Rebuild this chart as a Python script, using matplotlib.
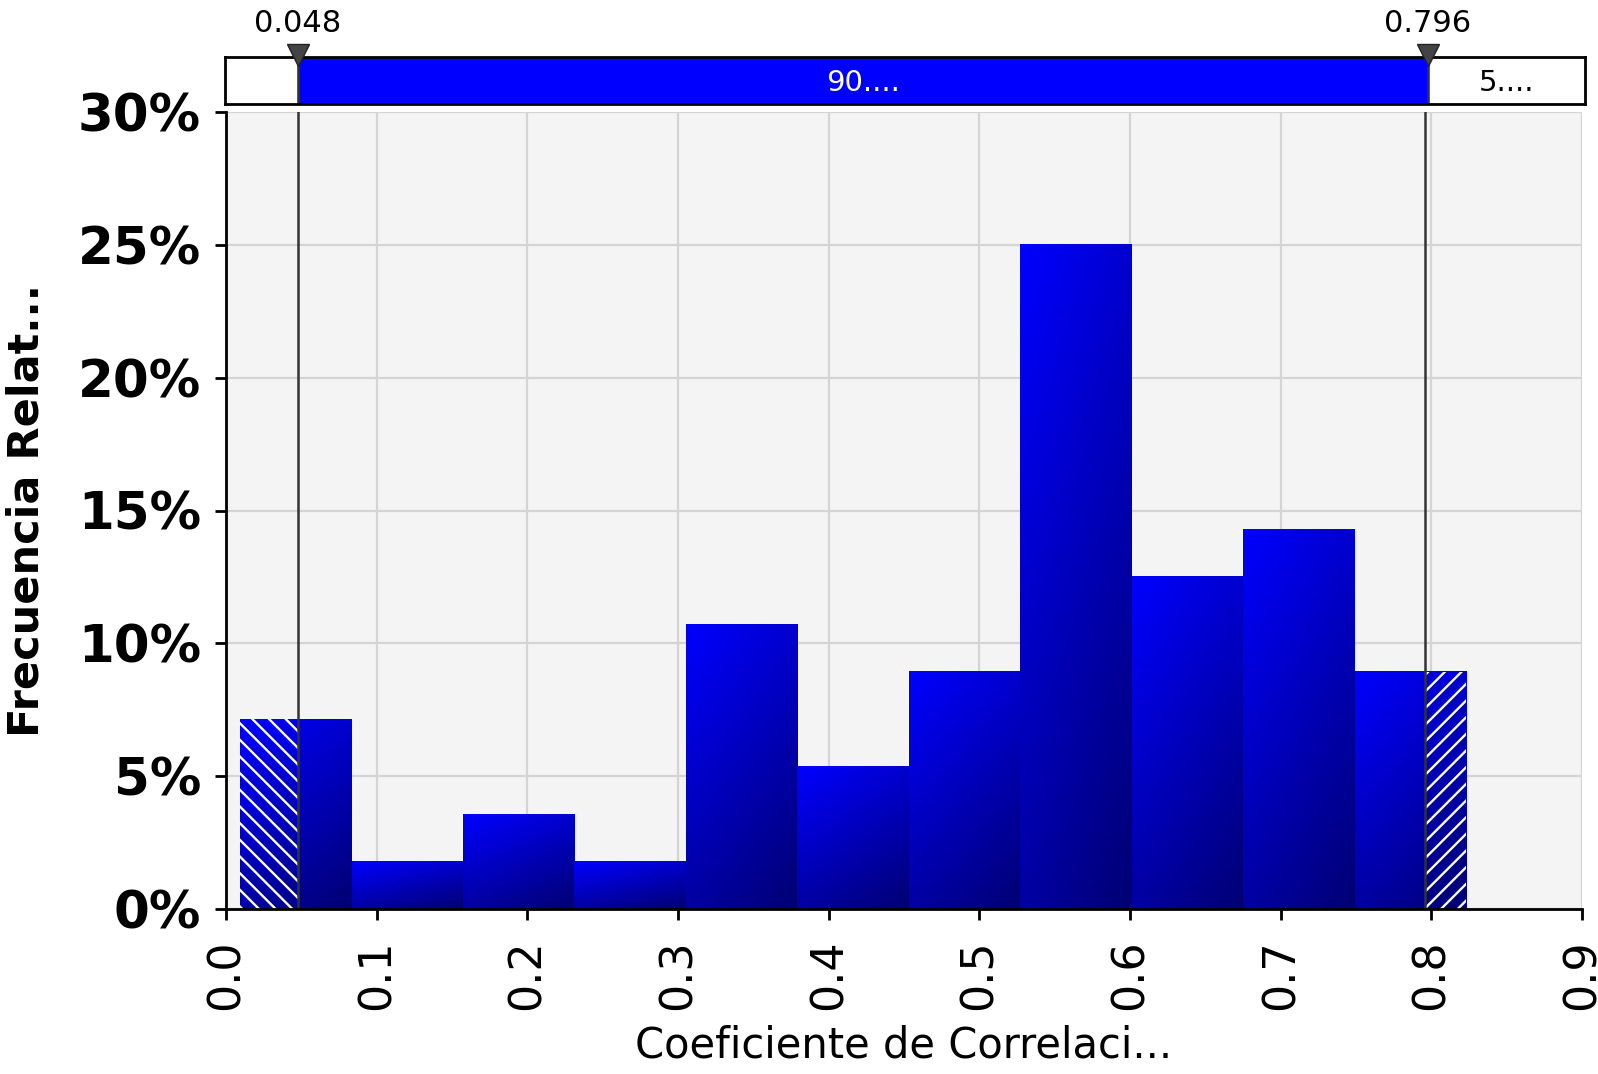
import numpy as np
import matplotlib
matplotlib.use("Agg")
import matplotlib.pyplot as plt
from matplotlib.ticker import FuncFormatter

# histogram data
bin_edges = [0.0093, 0.0833, 0.1573, 0.2313, 0.3053, 0.3793, 0.4533,
             0.5273, 0.6013, 0.6753, 0.7493, 0.8233]
freq_pct = [7.14, 1.79, 3.57, 1.79, 10.71, 5.36, 8.93, 25.0, 12.5, 14.29, 8.93]

lower_mark = 0.048
upper_mark = 0.796
strip_labels = ["90....", "5...."]
x_ticks = [0.0, 0.1, 0.2, 0.3, 0.4, 0.5, 0.6, 0.7, 0.8, 0.9]
y_ticks = [0, 5, 10, 15, 20, 25, 30]

plt.rcParams['font.family'] = ['DejaVu Sans']
plt.rcParams['hatch.color'] = 'white'
plt.rcParams['hatch.linewidth'] = 1.7

W, H = 1598, 1074
fig = plt.figure(figsize=(W / 100, H / 100), dpi=100)

ax = fig.add_axes([226 / W, 1 - 909 / H, 1356 / W, 797 / H])
ax.set_facecolor('#f4f4f4')


def gradient_img(n=64):
    u = np.linspace(0, 1, n)
    v = np.linspace(1, 0, n)  # row 0 is top
    uu, vv = np.meshgrid(u, v)
    t = 0.35 * uu + 0.65 * (1 - vv)
    blue = 255 - t * 140
    img = np.zeros((n, n, 3))
    img[..., 2] = blue / 255.0
    return img


img = gradient_img()
for i, h in enumerate(freq_pct):
    l, r = bin_edges[i], bin_edges[i + 1]
    ax.imshow(img, extent=(l, r, 0, h), aspect='auto', origin='upper',
              zorder=2, interpolation='bilinear')

# hatched tails outside the markers
ax.bar(bin_edges[0], freq_pct[0], width=lower_mark - bin_edges[0], align='edge',
       facecolor='none', edgecolor='white', linewidth=0, hatch='\\\\', zorder=3)
ax.bar(upper_mark, freq_pct[-1], width=bin_edges[-1] - upper_mark, align='edge',
       facecolor='none', edgecolor='white', linewidth=0, hatch='//', zorder=3)

for xm in (lower_mark, upper_mark):
    ax.axvline(xm, color='#333333', lw=1.8, zorder=4)

ax.set_xlim(0, 0.9)
ax.set_ylim(0, 30)
ax.set_xticks(x_ticks)
ax.set_yticks(y_ticks)
ax.xaxis.set_major_formatter(FuncFormatter(lambda v, p: f"{v:.1f}"))
ax.yaxis.set_major_formatter(FuncFormatter(lambda v, p: f"{v:.0f}%"))
ax.grid(True, color='#d4d4d4', lw=1.6, zorder=1)
ax.set_axisbelow(True)
for s in ('top', 'right'):
    ax.spines[s].set_visible(False)
for s in ('left', 'bottom'):
    ax.spines[s].set_linewidth(2)
    ax.spines[s].set_zorder(5)
ax.tick_params(axis='y', labelsize=37, width=2, length=8, pad=10)
ax.tick_params(axis='x', labelsize=32, width=2, length=8, labelrotation=90, pad=14)
for lab in ax.get_yticklabels():
    lab.set_fontweight('bold')
ax.set_xlabel("Coeficiente de Correlaci...", fontsize=30, labelpad=10)
ax.set_ylabel("Frecuencia Relat...", fontsize=31, fontweight='bold', labelpad=22)

# top strip showing the interval
sx = fig.add_axes([225 / W, 1 - 104 / H, 1360 / W, 47 / H])
sx.set_xlim(0, 0.9)
sx.set_ylim(0, 1)
sx.axvspan(lower_mark, upper_mark, color='#0000ff', zorder=1)
for s in sx.spines.values():
    s.set_linewidth(2)
sx.set_xticks([])
sx.set_yticks([])
for xm in (lower_mark, upper_mark):
    sx.axvline(xm, color='#333333', lw=1.8, zorder=2)
sx.text((lower_mark + upper_mark) / 2, 0.45, strip_labels[0], color='white',
        fontsize=21, ha='center', va='center')
sx.text((upper_mark + 0.9) / 2, 0.45, strip_labels[1], color='black',
        fontsize=21, ha='center', va='center')
sx.plot([lower_mark, upper_mark], [1.05, 1.05], ls='none', marker='v', markersize=16,
        color='#444444', markeredgecolor='#222222', clip_on=False, zorder=6)
sx.text(lower_mark, 1.4, f"{lower_mark:.3f}", fontsize=22, ha='center', va='bottom')
sx.text(upper_mark, 1.4, f"{upper_mark:.3f}", fontsize=22, ha='center', va='bottom')

fig.savefig("out.png", dpi=100)
